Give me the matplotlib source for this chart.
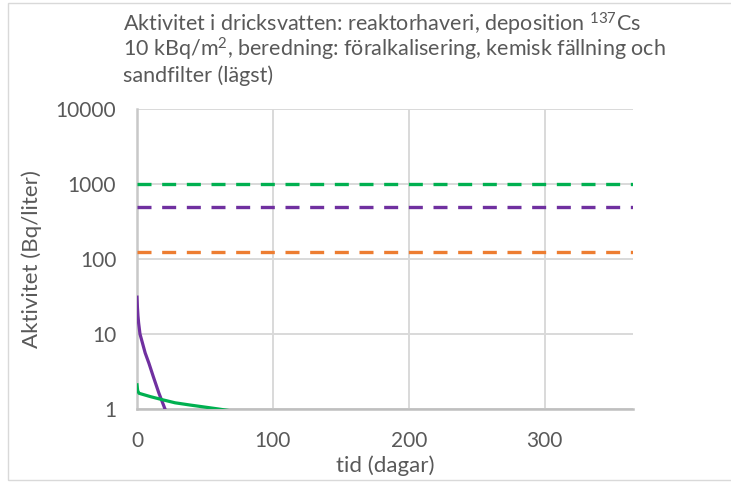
import matplotlib
matplotlib.use("Agg")
import matplotlib.pyplot as plt
from matplotlib.patches import Rectangle
from matplotlib.ticker import FixedLocator, NullLocator

plt.rcParams['font.family'] = ['Lato', 'DejaVu Sans']
plt.rcParams['mathtext.default'] = 'regular'

# Utsläppsfallet: aktivitet i dricksvatten efter beredning
purple_days = [0, 0.3, 0.7, 1.2, 2.2, 4, 6, 8.8, 12, 16, 20.6, 23]
purple_act = [31, 23, 17.5, 14, 10, 7.6, 5.6, 4.06, 2.7, 1.65, 1.0, 0.8]

green_days = [0, 0.5, 1.5, 10, 19.4, 28, 39, 50, 60, 70]
green_act = [2.1, 1.75, 1.62, 1.46, 1.32, 1.21, 1.13, 1.06, 1.0, 0.94]

# Gränsvärden (konstanta nivåer)
limit_days = [0, 365]
green_limit = 1000
purple_limit = 500
orange_limit = 125

x_ticks = [0, 100, 200, 300]
y_ticks = [1, 10, 100, 1000, 10000]
y_ticklabels = ['1', '10', '100', '1000', '10000']

title_lines = [
    'Aktivitet i dricksvatten: reaktorhaveri, deposition $^{137}$Cs',
    '10 kBq/m$^{2}$, beredning: föralkalisering, kemisk fällning och',
    'sandfilter (lägst)',
]

GREEN = '#00B050'
PURPLE = '#7030A0'
ORANGE = '#ED7D31'
TEXT = '#595959'

W, H = 731, 482
fig = plt.figure(figsize=(W / 100, H / 100), dpi=100)

# ram runt diagrammet
fig.add_artist(Rectangle((8 / W, 2 / H), 1.0, (H - 5) / H, transform=fig.transFigure,
                         fill=False, edgecolor='#D9D9D9', linewidth=1.0))

ax = fig.add_axes([137 / W, (H - 409) / H, 496 / W, 300 / H])
ax.set_yscale('log')
ax.set_xlim(0, 365)
ax.set_ylim(1, 10000)

dash = (0, (4.2, 3.2))
ax.plot(limit_days, [green_limit] * 2, color=GREEN, lw=2.4, ls=dash, zorder=3)
ax.plot(limit_days, [purple_limit] * 2, color=PURPLE, lw=2.4, ls=dash, zorder=3)
ax.plot(limit_days, [orange_limit] * 2, color=ORANGE, lw=2.4, ls=dash, zorder=3)

ax.plot(purple_days, purple_act, color=PURPLE, lw=2.3, zorder=4)
ax.plot(green_days, green_act, color=GREEN, lw=2.3, zorder=4)

ax.xaxis.set_major_locator(FixedLocator(x_ticks))
ax.yaxis.set_major_locator(FixedLocator(y_ticks))
ax.yaxis.set_minor_locator(NullLocator())
ax.set_yticklabels(y_ticklabels)
ax.tick_params(length=0, labelsize=15, labelcolor=TEXT)
ax.tick_params(axis='x', pad=16)
ax.tick_params(axis='y', pad=15)

ax.grid(True, color='#D9D9D9', lw=1.4)
ax.set_axisbelow(True)
for side in ['top', 'right']:
    ax.spines[side].set_visible(False)
ax.spines['left'].set_color('#C8C8C8')
ax.spines['bottom'].set_color('#BFBFBF')
ax.spines['left'].set_linewidth(1.8)
ax.spines['bottom'].set_linewidth(1.8)

ax.set_xlabel('tid (dagar)', fontsize=16, color=TEXT, va='center')
ax.xaxis.set_label_coords(0.5, (409 - 466) / 300)
ax.set_ylabel('Aktivitet (Bq/liter)', fontsize=16, color=TEXT, va='center')
ax.yaxis.set_label_coords((32 - 137) / 496, 0.5)

for i, line in enumerate(title_lines):
    fig.text(123 / W, 1 - (31 + 25.5 * i) / H, line, fontsize=15.5, color=TEXT,
             ha='left', va='baseline')

fig.savefig('out.png', dpi=100)
